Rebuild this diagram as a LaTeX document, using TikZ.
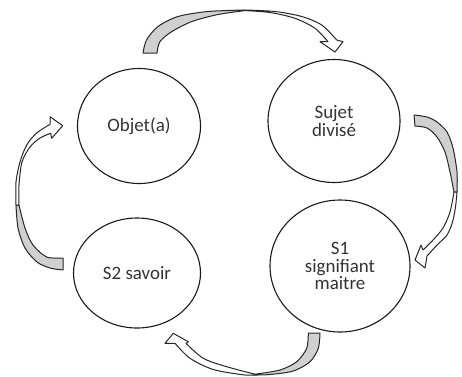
\documentclass[tikz,border=0pt]{standalone}
\usepackage{fontspec}
\setmainfont{Carlito}
\usetikzlibrary{shapes.geometric}
\definecolor{ribbon}{RGB}{208,208,208}
\begin{document}
\begin{tikzpicture}[x=1bp,y=-1bp,
  circ/.style={draw=black!90,line width=1.1bp,ellipse,inner sep=0pt,align=center,
    font=\fontsize{19}{17.5}\selectfont,text=black!80},
  back/.style={draw=black!85,line width=1bp,fill=ribbon,line join=round},
  front/.style={draw=black!85,line width=1bp,fill=white,line join=round}]
\useasboundingbox (0,0) rectangle (462,376);
% circles
\node[circ,minimum width=123bp,minimum height=115bp] (obj) at (139,126) {Objet(a)};
\node[circ,minimum width=132bp,minimum height=123bp] (suj) at (334,121) {Sujet\\divisé};
\node[circ,minimum width=127bp,minimum height=110bp] (s2) at (137,273) {S2 savoir};
\node[circ,minimum width=140bp,minimum height=132bp] (s1) at (340,266) {S1\\signifiant\\maitre};
% top arrow
\draw[back] plot[smooth] coordinates {(143,53) (146.5,40) (158,26.5) (178,16.5) (208,11.5) (245,10)}
  -- plot[smooth] coordinates {(245,10.6) (218,14.5) (192,21.5) (172,31.5) (160,41.5) (157,53)} -- cycle;
\draw[front] plot[smooth] coordinates {(245,10) (275,11.5) (301.7,16.5) (321.7,25) (336.7,40)}
  -- (343,41.7) -- (335,52) -- (320,41.7)
  -- plot[smooth] coordinates {(328,41.7) (315,28.3) (295,18.3) (270,12.5) (245,10.6)} -- cycle;
% right arrow
\draw[back] plot[smooth] coordinates {(414,115) (427,117) (437,122) (447,132) (453,148) (457,172) (457,192)}
  -- plot[smooth] coordinates {(454,192) (450,172) (445,152) (437,137) (427,128) (415,126)} -- cycle;
\draw[front] plot[smooth] coordinates {(457,192) (455.5,207) (452.5,222) (447,235) (437,245) (427,256)}
  -- (425,268) -- (415,260) -- (421,245)
  -- plot[smooth] coordinates {(423,250) (433,240) (443,228) (450,212) (454,192)} -- cycle;
% bottom arrow
\draw[back] plot[smooth] coordinates {(320,333) (318.3,348.3) (310,361.7) (293.3,371) (270,374.5) (255,375)}
  -- plot[smooth] coordinates {(255,374.2) (280,370) (296.7,361.7) (306.7,348.3) (308.3,333)} -- cycle;
\draw[front] plot[smooth] coordinates {(255,375) (243,374.8) (213.3,369.5) (190,358.3) (175,343.3)}
  -- (165,343.3) -- (173.3,333.3) -- (188.3,341.7)
  -- plot[smooth] coordinates {(186,343.3) (203.3,358.3) (226.7,366.7) (255,374.2)} -- cycle;
% left arrow
\draw[back] plot[smooth] coordinates {(63,270) (50,268) (37,262) (25,248) (18,228) (16,205)}
  -- plot[smooth] coordinates {(19,205) (25,228) (33,245) (46.7,257) (63,258)} -- cycle;
\draw[front] plot[smooth] coordinates {(16,205) (16,182) (20,162) (26.7,145) (36.7,133) (50,124.3)}
  -- (50,116.7) -- (62.7,125.7) -- (51.7,138.3)
  -- plot[smooth] coordinates {(50.7,133.3) (40,138) (30,147) (22,162) (19,185) (19,205)} -- cycle;
\end{tikzpicture}
\end{document}
